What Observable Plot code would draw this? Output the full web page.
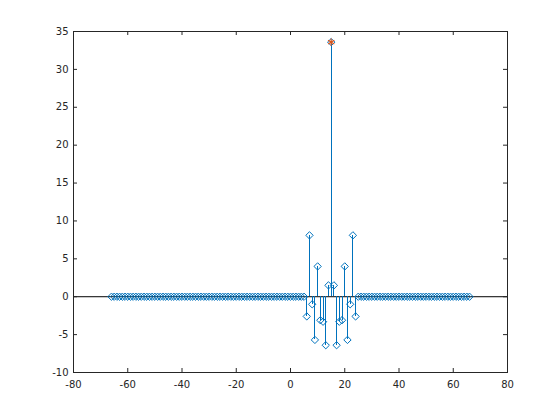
<!DOCTYPE html>
<html><head><meta charset="utf-8">
<script src="https://cdn.jsdelivr.net/npm/d3@7"></script>
<script src="https://cdn.jsdelivr.net/npm/@observablehq/plot@0.6"></script>
<style>body{margin:0;background:#fff}</style>
</head><body><div id="chart"></div>
<script>
// tick labels
const xTicks = [-80, -60, -40, -20, 0, 20, 40, 60, 80];
const yTicks = [-10, -5, 0, 5, 10, 15, 20, 25, 30, 35];

// sample indices of the stem plot
const stemX = d3.range(-66, 67);
// stem values
const stemY = [
  0,0,0,0,0,0,0,0,0,0,0,0,
  0,0,0,0,0,0,0,0,0,0,0,0,
  0,0,0,0,0,0,0,0,0,0,0,0,
  0,0,0,0,0,0,0,0,0,0,0,0,
  0,0,0,0,0,0,0,0,0,0,0,0,
  0,0,0,0,0,0,0,0,0,0,0,0,
  -2.6, 8.1, -1.0, -5.7, 4.0, -3.1, -3.3, -6.4, 1.5, 33.6,
  1.5, -6.4, -3.3, -3.1, 4.0, -5.7, -1.0, 8.1, -2.6,
  0,0,0,0,0,0,0,0,0,0,0,0,
  0,0,0,0,0,0,0,0,0,0,0,0,
  0,0,0,0,0,0,0,0,0,0,0,0,
  0,0,0,0,0,0
];
// highlighted peak
const peakX = [15];
const peakY = [33.6];

const data = stemX.map((x, i) => ({x, y: stemY[i]}));
const peak = peakX.map((x, i) => ({x, y: peakY[i]}));

const W = 560, H = 420, mL = 73, mR = 53, mT = 31, mB = 48;
const fw = W - mL - mR, fh = H - mT - mB, tk = 4;
const axisColor = "#262626";
const blue = "#0072BD", orange = "#D95319";

const chart = Plot.plot({
  width: W, height: H,
  marginLeft: mL, marginRight: mR, marginTop: mT, marginBottom: mB,
  x: {domain: [-80, 80]},
  y: {domain: [-10, 35]},
  style: {fontFamily: "DejaVu Sans", fontSize: "10px", color: axisColor, background: "#fff"},
  marks: [
    Plot.ruleY([0], {stroke: "#000", strokeWidth: 1}),
    Plot.ruleX(data, {x: "x", y1: 0, y2: "y", stroke: blue, strokeWidth: 1, shapeRendering: "crispEdges"}),
    Plot.dot(data, {x: "x", y: "y", symbol: "diamond2", r: 3.3, stroke: blue, fill: "none", strokeWidth: 1}),
    Plot.dot(peak, {x: "x", y: "y", symbol: "asterisk", r: 3.4, stroke: orange, strokeWidth: 1.2}),
    Plot.frame({stroke: axisColor}),
    Plot.tickX(xTicks, {x: d => d, insetTop: fh - tk, stroke: axisColor}),
    Plot.tickX(xTicks, {x: d => d, insetBottom: fh - tk, stroke: axisColor}),
    Plot.tickY(yTicks, {y: d => d, insetRight: fw - tk, stroke: axisColor}),
    Plot.tickY(yTicks, {y: d => d, insetLeft: fw - tk, stroke: axisColor}),
    Plot.axisX({ticks: xTicks, tickSize: 0, tickPadding: 8, tickFormat: d => String(d), label: null, fill: axisColor}),
    Plot.axisY({ticks: yTicks, tickSize: 0, tickPadding: 5, tickFormat: d => String(d), label: null, fill: axisColor})
  ]
});
document.getElementById("chart").appendChild(chart);
</script>
</body></html>
